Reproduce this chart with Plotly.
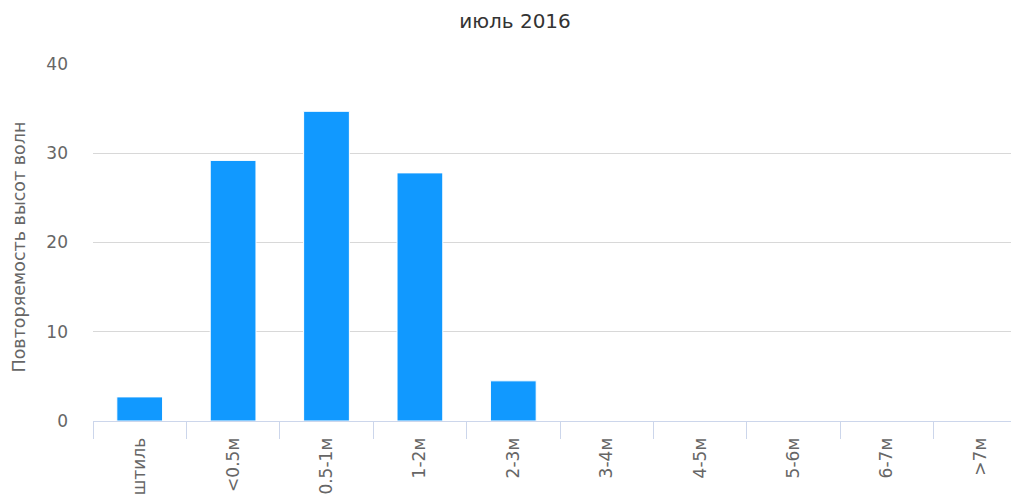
import plotly.graph_objects as go

categories = ["штиль", "<0.5м", "0.5-1м", "1-2м", "2-3м", "3-4м", "4-5м", "5-6м", "6-7м", ">7м"]
values = [2.7, 29.2, 34.7, 27.8, 4.5, 0, 0, 0, 0, 0]
y_ticks = [0, 10, 20, 30, 40]

W, H = 1019, 497
OFF = 8  # page body margin
left, top, plot_bottom = 93 - OFF, 64 - OFF, 421 - OFF
bottom = H - plot_bottom

fig = go.Figure(go.Bar(
    x=categories, y=values,
    marker=dict(color="#1199FF", line=dict(color="#FFFFFF", width=1)),
    width=0.49,
))

fig.add_annotation(
    text="Повторяемость высот волн", textangle=-90,
    xref="paper", yref="paper", x=0, y=0.5, xanchor="center", yanchor="middle",
    xshift=18 - 93, yshift=-5, showarrow=False,
    font=dict(size=17.5, color="#666666"),
)

fig.update_layout(
    width=W, height=H,
    margin=dict(l=left, r=0, t=top, b=bottom, autoexpand=False),
    paper_bgcolor="white", plot_bgcolor="white",
    font=dict(family="DejaVu Sans, Verdana, sans-serif", color="#666666", size=16),
    showlegend=False,
    title=dict(text="июль 2016", x=(515 - OFF) / W, xref="container", xanchor="center",
               y=1 - (21 - OFF) / H, yref="container", yanchor="middle",
               font=dict(size=20, color="#333333")),
    xaxis=dict(
        type="category", range=[-0.5, 9.5],
        showline=True, linecolor="#CCD6EB", linewidth=1,
        ticks="outside", tickson="boundaries", ticklen=17, tickcolor="#CCD6EB", tickwidth=1,
        tickangle=-90, tickfont=dict(size=17, color="#666666"),
        ticklabelstandoff=9,
        showgrid=False, automargin=False,
    ),
    yaxis=dict(
        range=[0, 40], tickvals=y_ticks,
        showgrid=True, gridcolor="#D8D8D8", gridwidth=1,
        zeroline=False, showline=False,
        tickfont=dict(size=17, color="#666666"),
        ticklabelstandoff=24,
        automargin=False,
    ),
)

fig.write_html("out.html")
